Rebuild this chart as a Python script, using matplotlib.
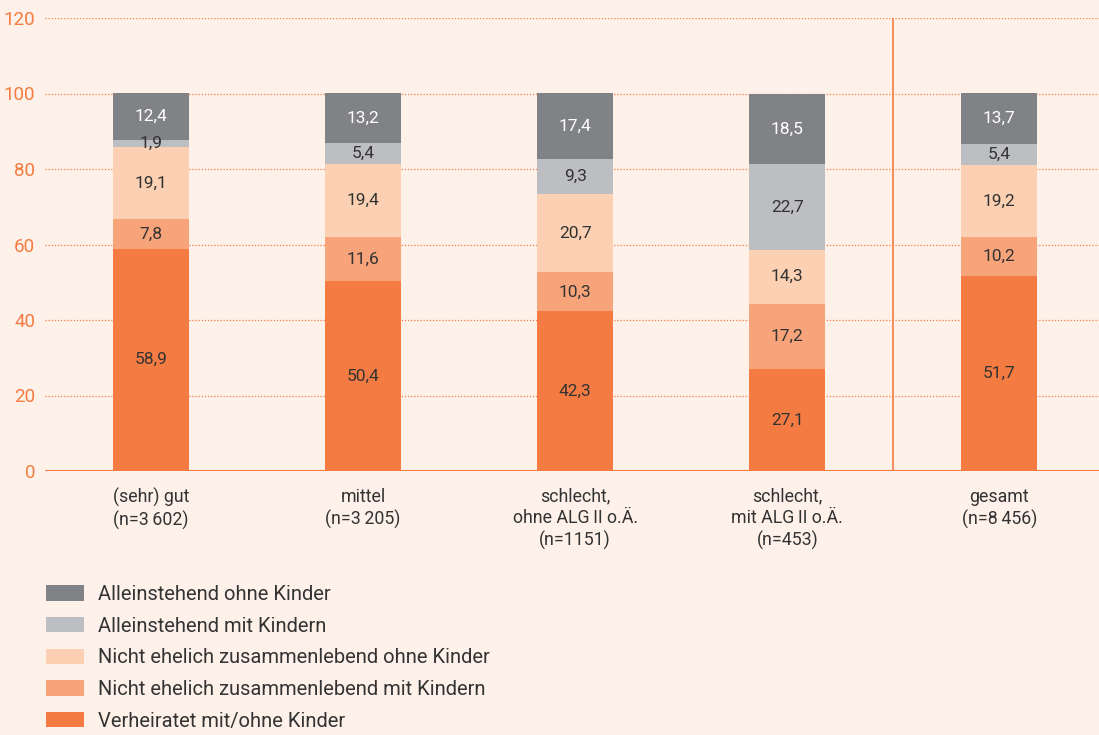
import numpy as np
import matplotlib.pyplot as plt
from matplotlib.patches import Patch

categories = ["(sehr) gut\n(n=3\u2009602)", "mittel\n(n=3\u2009205)",
              "schlecht,\nohne ALG\u2009II o.Ä.\n(n=1151)",
              "schlecht,\nmit ALG\u2009II o.Ä.\n(n=453)", "gesamt\n(n=8\u2009456)"]
series_names = ["Verheiratet mit/ohne Kinder",
                "Nicht ehelich zusammenlebend mit Kindern",
                "Nicht ehelich zusammenlebend ohne Kinder",
                "Alleinstehend mit Kindern",
                "Alleinstehend ohne Kinder"]
verheiratet = [58.9, 50.4, 42.3, 27.1, 51.7]
ne_mit = [7.8, 11.6, 10.3, 17.2, 10.2]
ne_ohne = [19.1, 19.4, 20.7, 14.3, 19.2]
allein_mit = [1.9, 5.4, 9.3, 22.7, 5.4]
allein_ohne = [12.4, 13.2, 17.4, 18.5, 13.7]
values = [verheiratet, ne_mit, ne_ohne, allein_mit, allein_ohne]

colors = ["#f47c42", "#f7a47a", "#fcd0b2", "#bdbec1", "#818285"]
text_colors = ["#333333", "#333333", "#333333", "#333333", "#ffffff"]
bg = "#fdf1e9"
orange = "#f47c42"

plt.rcParams['font.family'] = ['Roboto', 'DejaVu Sans']

fig = plt.figure(figsize=(10.99, 7.35), dpi=100, facecolor=bg)
ax = fig.add_axes([45 / 1099, 1 - 471 / 735, 1 - 45 / 1099, (471 - 18) / 735])
ax.set_facecolor(bg)

x = np.arange(len(categories))
bottom = np.zeros(len(categories))
for vals, c, tc in zip(values, colors, text_colors):
    vals = np.array(vals)
    ax.bar(x, vals, bottom=bottom, width=0.36, color=c, zorder=3)
    for xi, b, v in zip(x, bottom, vals):
        ax.text(xi, b + v / 2, f"{v:.1f}".replace(".", ","), ha="center",
                va="center", fontsize=12.5, color=tc, zorder=4)
    bottom += vals

ax.set_xlim(-0.5, 4.47)
ax.set_ylim(0, 120)
ax.set_yticks(range(0, 121, 20))
ax.tick_params(axis="y", length=0, labelcolor=orange, labelsize=13.5, pad=7)
ax.tick_params(axis="x", length=0, labelcolor="#333333", labelsize=12.8, pad=12)
ax.set_xticks(x)
ax.set_xticklabels(categories, linespacing=1.25, va="top")
for y in range(20, 121, 20):
    ax.axhline(y, color=orange, lw=0.9, ls=(0, (1, 1.5)), zorder=1)
ax.axhline(0, color=orange, lw=1.5, zorder=5)
ax.axvline(3.5, color=orange, lw=1.2, zorder=2)
for s in ax.spines.values():
    s.set_visible(False)

handles = [Patch(facecolor=c, edgecolor="none") for c in colors[::-1]]
leg = fig.legend(handles, series_names[::-1], loc="upper left",
                 bbox_to_anchor=(46 / 1099, 1 - 585 / 735), frameon=False,
                 fontsize=14.5, handlelength=1.9, handleheight=0.8,
                 labelspacing=0.63, handletextpad=0.7, borderaxespad=0,
                 borderpad=0)
for t in leg.get_texts():
    t.set_color("#333333")

fig.savefig("out.png", dpi=100, facecolor=bg)
